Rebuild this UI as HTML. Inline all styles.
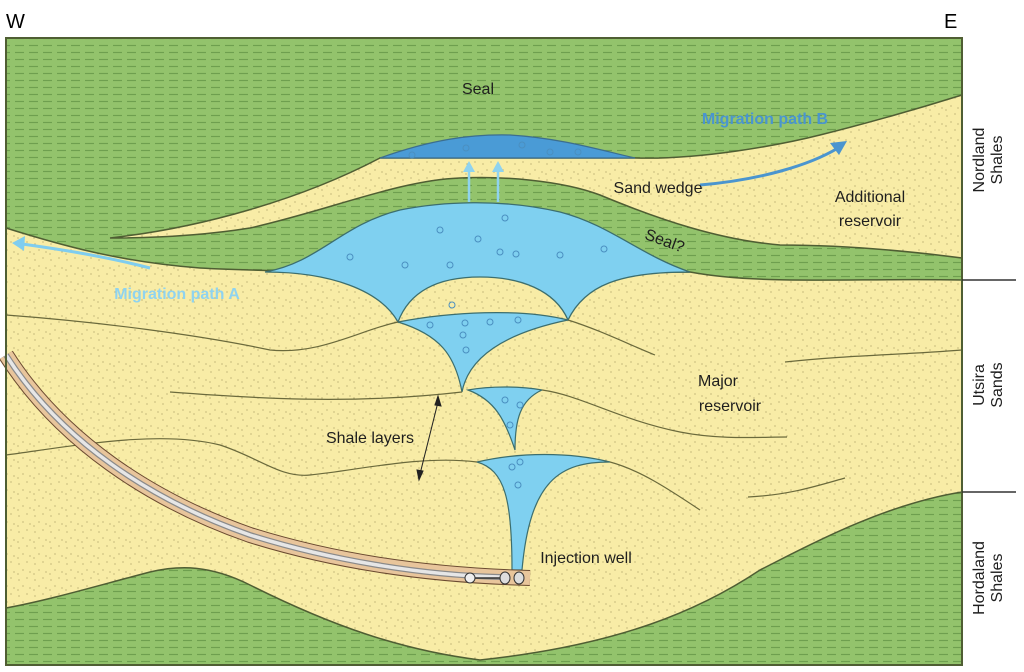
<!DOCTYPE html>
<html><head><meta charset="utf-8"><style>
html,body{margin:0;padding:0;background:#fff;}
svg{display:block;}
text{font-family:"Liberation Sans",Arial,sans-serif;}
</style></head><body>
<svg width="1024" height="672" viewBox="0 0 1024 672" xmlns="http://www.w3.org/2000/svg">
<defs>
<pattern id="sh" width="14" height="7" patternUnits="userSpaceOnUse">
<rect width="14" height="7" fill="#93c36c"/>
<line x1="1" y1="3.5" x2="10" y2="3.5" stroke="#6e9f4f" stroke-width="1.2"/>
</pattern>
<pattern id="sd" width="16" height="16" patternUnits="userSpaceOnUse">
<rect width="16" height="16" fill="#f8eca6"/>
<circle cx="3" cy="4" r="0.6" fill="#a59a60"/><circle cx="11" cy="2" r="0.6" fill="#a59a60"/>
<circle cx="7" cy="10" r="0.6" fill="#a59a60"/><circle cx="14" cy="12" r="0.6" fill="#a59a60"/>
<circle cx="2" cy="14" r="0.6" fill="#a59a60"/>
</pattern>
</defs>
<text x="6" y="28" font-size="20">W</text>
<text x="944" y="28" font-size="20">E</text>
<!-- green background -->
<rect x="6" y="38" width="956" height="627" fill="url(#sh)"/>
<!-- main sand -->
<path d="M6,228 C60,245 120,262 200,268 C300,274 600,272 690,272 C760,285 850,278 962,280 L962,492 C880,505 800,550 760,570 C700,610 620,645 480,660 C400,650 330,625 250,585 C210,565 180,565 150,572 C100,585 50,600 6,608 Z" fill="url(#sd)" stroke="#4f5e33" stroke-width="1.5"/>
<!-- upper sand wedge -->
<path d="M110,238 C200,228 300,200 380,158 L635,158 C700,160 780,145 820,135 C880,120 930,105 962,95 L962,258 C900,250 840,245 780,245 C720,240 660,220 600,195 C560,180 500,176 460,178 C400,180 330,210 250,228 C200,236 150,238 110,238 Z" fill="url(#sd)" stroke="#4f5e33" stroke-width="1.5"/>
<!-- dark blue lens -->
<path d="M380,158 C430,140 470,134 510,135 C560,138 600,150 635,158 Z" fill="#4a9bd6" stroke="#3c6e8e" stroke-width="1.2"/>
<!-- big plume -->
<path d="M265,272 C320,262 340,225 400,210 C440,202 500,198 560,212 C610,225 640,255 690,272 C620,272 585,285 568,320 C555,290 520,277 480,277 C440,277 410,290 398,322 C380,290 330,272 265,272 Z" fill="#7fd0f0" stroke="#3c6e6e" stroke-width="1.3"/>
<!-- second -->
<path d="M398,322 C450,312 520,308 568,320 C520,330 470,350 462,392 C455,355 440,335 398,322 Z" fill="#7fd0f0" stroke="#3c6e6e" stroke-width="1.2"/>
<!-- third -->
<path d="M468,390 C490,386 520,386 542,390 C520,400 515,420 515,450 C505,420 495,400 468,390 Z" fill="#7fd0f0" stroke="#3c6e6e" stroke-width="1.2"/>
<!-- fourth -->
<path d="M477,462 C520,452 570,452 610,462 C560,462 530,480 522,570 L512,570 C512,500 505,470 477,462 Z" fill="#7fd0f0" stroke="#3c6e6e" stroke-width="1.2"/>
<!-- bubbles -->
<g fill="none" stroke="#4a8fc0" stroke-width="1">
<circle cx="350" cy="257" r="3"/><circle cx="405" cy="265" r="3"/><circle cx="440" cy="230" r="3"/><circle cx="478" cy="239" r="3"/>
<circle cx="505" cy="218" r="3"/><circle cx="500" cy="252" r="3"/><circle cx="516" cy="254" r="3"/><circle cx="560" cy="255" r="3"/>
<circle cx="604" cy="249" r="3"/><circle cx="450" cy="265" r="3"/><circle cx="452" cy="305" r="3"/>
<circle cx="412" cy="155" r="3"/><circle cx="466" cy="148" r="3"/><circle cx="522" cy="145" r="3"/><circle cx="550" cy="152" r="3"/><circle cx="578" cy="152" r="3"/>
<circle cx="430" cy="325" r="3"/><circle cx="465" cy="323" r="3"/><circle cx="490" cy="322" r="3"/><circle cx="518" cy="320" r="3"/><circle cx="463" cy="335" r="3"/><circle cx="466" cy="350" r="3"/>
<circle cx="505" cy="400" r="3"/><circle cx="520" cy="405" r="3"/><circle cx="510" cy="425" r="3"/>
<circle cx="512" cy="467" r="3"/><circle cx="520" cy="462" r="3"/><circle cx="518" cy="485" r="3"/>
</g>
<!-- up arrows -->
<g stroke="#8fd3ef" stroke-width="2.5" fill="#8fd3ef">
<line x1="469" y1="202" x2="469" y2="170"/><path d="M463,172 L469,161 L475,172 Z" stroke="none"/>
<line x1="498" y1="202" x2="498" y2="170"/><path d="M492,172 L498,161 L504,172 Z" stroke="none"/>
</g>
<!-- shale lines -->
<g fill="none" stroke="#6b6a3c" stroke-width="1.2">
<path d="M6,315 C100,322 200,335 270,350 C320,355 360,330 398,322"/>
<path d="M568,320 C600,330 630,345 655,355"/>
<path d="M170,392 C250,398 350,405 462,392"/>
<path d="M542,390 C580,395 620,420 680,432 C720,440 760,437 787,437"/>
<path d="M6,455 C80,445 160,430 220,445 C260,458 280,478 310,475 C360,470 420,455 477,462"/>
<path d="M610,462 C640,470 670,490 700,510"/>
<path d="M785,362 C850,355 900,355 962,350"/>
<path d="M748,497 C790,495 820,485 845,478"/>
</g>
<!-- shale layers arrow -->
<g stroke="#222" stroke-width="1" fill="#222">
<line x1="438" y1="402" x2="420" y2="474"/>
<path d="M438,396 L441,406 L435,405 Z"/><path d="M419,480 L417,470 L423,471 Z"/>
</g>
<!-- well -->
<path d="M6,355 C60,440 150,500 250,535 C330,560 420,575 530,578" fill="none" stroke="#6a4a30" stroke-width="16" stroke-linecap="butt"/>
<path d="M6,355 C60,440 150,500 250,535 C330,560 420,575 530,578" fill="none" stroke="#e8c59b" stroke-width="14"/>
<path d="M6,355 C60,440 150,500 250,535 C330,560 420,575 500,577" fill="none" stroke="#8a8a8a" stroke-width="6"/>
<path d="M6,355 C60,440 150,500 250,535 C330,560 420,575 500,577" fill="none" stroke="#e6e6e6" stroke-width="3.5"/>
<circle cx="470" cy="578" r="5" fill="#eee" stroke="#333"/>
<ellipse cx="505" cy="578" rx="5" ry="6" fill="#ddd" stroke="#333"/>
<ellipse cx="519" cy="578" rx="5" ry="6" fill="#ddd" stroke="#333"/>
<line x1="475" y1="578" x2="500" y2="578" stroke="#333" stroke-width="1.5"/>
<!-- migration arrows -->
<path d="M150,268 C100,255 50,248 22,244" fill="none" stroke="#7fcdef" stroke-width="3"/>
<path d="M12,243 L25,236 L24,251 Z" fill="#7fcdef"/>
<path d="M700,185 C760,180 810,165 838,148" fill="none" stroke="#4a95cf" stroke-width="3"/>
<path d="M847,141 L830,143 L839,155 Z" fill="#4a95cf"/>
<!-- frame -->
<rect x="6" y="38" width="956" height="627" fill="none" stroke="#4f5e33" stroke-width="2"/>
<line x1="962" y1="280" x2="1016" y2="280" stroke="#333" stroke-width="1.5"/>
<line x1="962" y1="492" x2="1016" y2="492" stroke="#333" stroke-width="1.5"/>
<!-- labels -->
<g font-size="16" fill="#1e1e1e">
<text x="478" y="94" text-anchor="middle">Seal</text>
<text x="658" y="193" text-anchor="middle">Sand wedge</text>
<text x="870" y="202" text-anchor="middle">Additional</text>
<text x="870" y="226" text-anchor="middle">reservoir</text>
<text x="665" y="246" text-anchor="middle" transform="rotate(20 665 240)">Seal?</text>
<text x="718" y="386" text-anchor="middle">Major</text>
<text x="730" y="411" text-anchor="middle">reservoir</text>
<text x="370" y="443" text-anchor="middle">Shale layers</text>
<text x="586" y="563" text-anchor="middle">Injection well</text>
</g>
<text x="765" y="124" text-anchor="middle" font-size="16" font-weight="bold" fill="#4a95cf">Migration path B</text>
<text x="177" y="299" text-anchor="middle" font-size="16" font-weight="bold" fill="#8fd3ef">Migration path A</text>
<g font-size="16" fill="#1e1e1e" text-anchor="middle">
<text transform="translate(984,160) rotate(-90)">Nordland</text>
<text transform="translate(1002,160) rotate(-90)">Shales</text>
<text transform="translate(984,385) rotate(-90)">Utsira</text>
<text transform="translate(1002,385) rotate(-90)">Sands</text>
<text transform="translate(984,578) rotate(-90)">Hordaland</text>
<text transform="translate(1002,578) rotate(-90)">Shales</text>
</g>
</svg>
</body></html>
